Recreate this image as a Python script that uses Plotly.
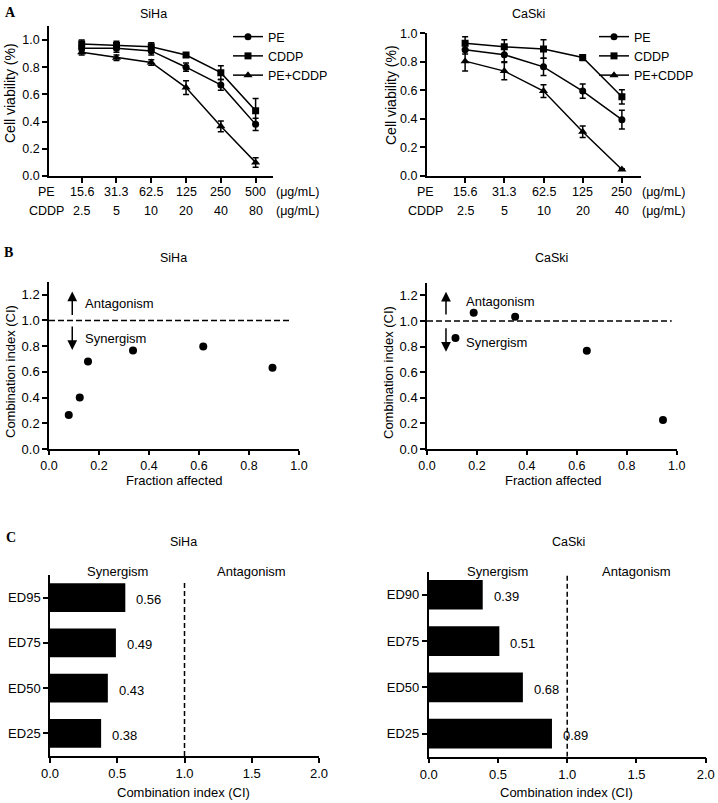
import plotly.graph_objects as go

W, H = 718, 803

# ---------------- Data ----------------
# Panel A - SiHa
siha_pe_dose = ["15.6", "31.3", "62.5", "125", "250", "500"]
siha_cddp_dose = ["2.5", "5", "10", "20", "40", "80"]
siha_pe = [0.94, 0.94, 0.92, 0.80, 0.67, 0.38]
siha_pe_err = [0.02, 0.03, 0.03, 0.03, 0.04, 0.045]
siha_cddp = [0.97, 0.96, 0.95, 0.89, 0.76, 0.48]
siha_cddp_err = [0.03, 0.03, 0.03, 0.01, 0.05, 0.09]
siha_combo = [0.91, 0.87, 0.835, 0.65, 0.365, 0.10]
siha_combo_err = [0.02, 0.02, 0.02, 0.05, 0.04, 0.035]

# Panel A - CaSki
caski_pe_dose = ["15.6", "31.3", "62.5", "125", "250"]
caski_cddp_dose = ["2.5", "5", "10", "20", "40"]
caski_pe = [0.885, 0.85, 0.765, 0.595, 0.395]
caski_pe_err = [0.03, 0.05, 0.06, 0.05, 0.065]
caski_cddp = [0.93, 0.905, 0.89, 0.83, 0.555]
caski_cddp_err = [0.045, 0.05, 0.065, 0.02, 0.05]
caski_combo = [0.805, 0.735, 0.595, 0.31, 0.045]
caski_combo_err = [0.07, 0.06, 0.045, 0.04, 0.005]

# Panel B - CI vs Fa
siha_fa = [0.079, 0.123, 0.156, 0.336, 0.617, 0.894]
siha_ci = [0.264, 0.40, 0.68, 0.765, 0.796, 0.632]
caski_fa = [0.114, 0.187, 0.353, 0.640, 0.945]
caski_ci = [0.867, 1.065, 1.034, 0.768, 0.227]

# Panel C - CI at ED levels
siha_ed = ["ED25", "ED50", "ED75", "ED95"]
siha_ed_ci = [0.38, 0.43, 0.49, 0.56]
caski_ed = ["ED25", "ED50", "ED75", "ED90"]
caski_ed_ci = [0.89, 0.68, 0.51, 0.39]

FONT = "Liberation Sans, Arial, sans-serif"
SERIF = "Liberation Serif, Times New Roman, serif"


def px(x):
    return x / W


def py(y):
    return 1 - y / H


fig = go.Figure()

# ---------- Panel A traces ----------
series_style = [("PE", "circle", 7), ("CDDP", "square", 7), ("PE+CDDP", "triangle-up", 8)]
siha_sets = [(siha_pe, siha_pe_err), (siha_cddp, siha_cddp_err), (siha_combo, siha_combo_err)]
caski_sets = [(caski_pe, caski_pe_err), (caski_cddp, caski_cddp_err), (caski_combo, caski_combo_err)]

for (name, sym, sz), (vals, errs) in zip(series_style, siha_sets):
    fig.add_trace(go.Scatter(
        x=list(range(len(siha_pe_dose))), y=vals, name=name, mode="lines+markers",
        marker=dict(symbol=sym, size=sz, color="black"),
        line=dict(color="black", width=1.5),
        error_y=dict(type="data", array=errs, color="black", thickness=1.5, width=3),
        xaxis="x", yaxis="y", legend="legend"))

for (name, sym, sz), (vals, errs) in zip(series_style, caski_sets):
    fig.add_trace(go.Scatter(
        x=list(range(len(caski_pe_dose))), y=vals, name=name, mode="lines+markers",
        marker=dict(symbol=sym, size=sz, color="black"),
        line=dict(color="black", width=1.5),
        error_y=dict(type="data", array=errs, color="black", thickness=1.5, width=3),
        xaxis="x2", yaxis="y2", legend="legend2"))

# ---------- Panel B traces ----------
fig.add_trace(go.Scatter(x=siha_fa, y=siha_ci, mode="markers", showlegend=False,
                         marker=dict(size=8, color="black"), xaxis="x3", yaxis="y3"))
fig.add_trace(go.Scatter(x=caski_fa, y=caski_ci, mode="markers", showlegend=False,
                         marker=dict(size=8, color="black"), xaxis="x4", yaxis="y4"))

# ---------- Panel C traces ----------
fig.add_trace(go.Bar(x=siha_ed_ci, y=siha_ed, orientation="h", width=0.64,
                     marker=dict(color="black", line=dict(width=0)), showlegend=False,
                     xaxis="x5", yaxis="y5"))
fig.add_trace(go.Bar(x=caski_ed_ci, y=caski_ed, orientation="h", width=0.64,
                     marker=dict(color="black", line=dict(width=0)), showlegend=False,
                     xaxis="x6", yaxis="y6"))

# ---------- Axes ----------
base = dict(showline=True, linecolor="black", linewidth=1.5, ticks="outside",
            ticklen=5, tickwidth=1.5, tickcolor="black", showgrid=False, zeroline=False,
            automargin=False,
            tickfont=dict(family=FONT, size=12.5, color="black"), fixedrange=True)
f13 = dict(family=FONT, size=13, color="black")
f125 = dict(family=FONT, size=12.5, color="black")

layout = dict(
    template="none",
    width=W, height=H, margin=dict(l=0, r=0, t=0, b=0, pad=0, autoexpand=False),
    paper_bgcolor="white", plot_bgcolor="white",
    font=dict(family=FONT, size=12, color="black"),
    showlegend=True,
    # A SiHa
    xaxis=dict(base, domain=[px(49), px(273)], range=[-0.94, 5.5],
               tickvals=list(range(len(siha_pe_dose))), showticklabels=False, anchor="y"),
    yaxis=dict(base, domain=[py(176), py(26.4)], range=[0, 1.1],
               tickvals=[0, 0.2, 0.4, 0.6, 0.8, 1.0], tickformat=".1f", anchor="x"),
    # A CaSki
    xaxis2=dict(base, domain=[px(426.7), px(640.7)], range=[-0.98, 4.48],
                tickvals=list(range(len(caski_pe_dose))), showticklabels=False, anchor="y2"),
    yaxis2=dict(base, domain=[py(176), py(33.3)], range=[0, 1.0],
                tickvals=[0, 0.2, 0.4, 0.6, 0.8, 1.0], tickformat=".1f", anchor="x2"),
    # B SiHa
    xaxis3=dict(base, domain=[px(49), px(299)], range=[0, 1.0],
                tickvals=[0, 0.2, 0.4, 0.6, 0.8, 1.0], tickformat=".1f", anchor="y3",
                tickfont=f125, ticklen=4),
    yaxis3=dict(base, domain=[py(449), py(281.8)], range=[0, 1.3],
                tickvals=[0, 0.2, 0.4, 0.6, 0.8, 1.0, 1.2], tickformat=".1f", anchor="x3",
                tickfont=f13),
    # B CaSki
    xaxis4=dict(base, domain=[px(427), px(676.7)], range=[0, 1.0],
                tickvals=[0, 0.2, 0.4, 0.6, 0.8, 1.0], tickformat=".1f", anchor="y4",
                tickfont=f125, ticklen=4),
    yaxis4=dict(base, domain=[py(449), py(282.7)], range=[0, 1.3],
                tickvals=[0, 0.2, 0.4, 0.6, 0.8, 1.0, 1.2], tickformat=".1f", anchor="x4",
                tickfont=f13),
    # C SiHa
    xaxis5=dict(base, domain=[px(50), px(319)], range=[0, 2.0],
                tickvals=[0, 0.5, 1.0, 1.5, 2.0], tickformat=".1f", anchor="y5",
                tickfont=f13),
    yaxis5=dict(base, domain=[py(756), py(575)], range=[-0.5, 3.5], type="category",
                categoryorder="array", categoryarray=siha_ed, anchor="x5",
                tickfont=f13),
    # C CaSki
    xaxis6=dict(base, domain=[px(428.7), px(705.7)], range=[0, 2.0],
                tickvals=[0, 0.5, 1.0, 1.5, 2.0], tickformat=".1f", anchor="y6",
                tickfont=f13),
    yaxis6=dict(base, domain=[py(756.7), py(571.7)], range=[-0.5, 3.5], type="category",
                categoryorder="array", categoryarray=caski_ed, anchor="x6",
                tickfont=f13),
    legend=dict(x=px(228), y=py(22), xanchor="left", yanchor="top",
                bgcolor="rgba(0,0,0,0)", borderwidth=0, itemwidth=30,
                font=dict(family=FONT, size=12.5, color="black"), tracegroupgap=0),
    legend2=dict(x=px(594), y=py(22), xanchor="left", yanchor="top",
                 bgcolor="rgba(0,0,0,0)", borderwidth=0, itemwidth=30,
                 font=dict(family=FONT, size=12.5, color="black"), tracegroupgap=0),
    bargap=0.36,
)
fig.update_layout(**layout)

ann = []


def text(x, y, t, size=12.5, angle=0, family=FONT, bold=False, xanchor="center"):
    ann.append(dict(x=px(x), y=py(y), xref="paper", yref="paper", text=(f"<b>{t}</b>" if bold else t),
                    showarrow=False, xanchor=xanchor, yanchor="middle", textangle=angle,
                    font=dict(family=family, size=size, color="black")))


# panel letters
text(10, 13, "A", size=14, family=SERIF, bold=True)
text(8, 253, "B", size=14, family=SERIF, bold=True)
text(11, 537, "C", size=14, family=SERIF, bold=True)

# titles
text(153, 14, "SiHa")
text(528, 14, "CaSki")
text(173, 258, "SiHa")
text(551, 258, "CaSki")
text(183, 542, "SiHa")
text(568, 542, "CaSki")

# axis titles
text(10, 93, "Cell viability (%)", size=14, angle=-90)
text(391, 95, "Cell viability (%)", size=14, angle=-90)
text(10, 372, "Combination index (CI)", size=13, angle=-90)
text(388, 372, "Combination index (CI)", size=13, angle=-90)
text(174, 481, "Fraction affected", size=13)
text(553, 481, "Fraction affected", size=13)
text(183, 792, "Combination index (CI)", size=13)
text(566, 792, "Combination index (CI)", size=13)

# Panel A dose rows
for xa, pe_d, cd_d, lab_x, unit_x in [("x", siha_pe_dose, siha_cddp_dose, 46, 297),
                                      ("x2", caski_pe_dose, caski_cddp_dose, 425, 663)]:
    for i, (a, b) in enumerate(zip(pe_d, cd_d)):
        ann.append(dict(x=i, y=py(192), xref=xa, yref="paper", text=a, showarrow=False,
                        xanchor="center", yanchor="middle", font=dict(family=FONT, size=12.5)))
        ann.append(dict(x=i, y=py(211), xref=xa, yref="paper", text=b, showarrow=False,
                        xanchor="center", yanchor="middle", font=dict(family=FONT, size=12.5)))
    text(lab_x, 192, "PE")
    text(lab_x, 211, "CDDP")
    text(unit_x, 192, "(μg/mL)")
    text(unit_x, 211, "(μg/mL)")

# Panel B arrows and labels
for xa, ya, ax_, up, dn, tx, ty_a, ty_s in [("x3", "y3", 0.093, (1.03, 1.225), (0.965, 0.77), 0.136, 1.13, 0.86),
                                            ("x4", "y4", 0.076, (1.04, 1.23), (0.955, 0.76), 0.147, 1.15, 0.83)]:
    ann.append(dict(x=ax_, y=up[1], ax=ax_, ay=up[0], xref=xa, yref=ya, axref=xa, ayref=ya,
                    text="", showarrow=True, arrowhead=2, arrowsize=1.3, arrowwidth=1.5,
                    arrowcolor="black", standoff=0, startstandoff=0))
    ann.append(dict(x=ax_, y=dn[1], ax=ax_, ay=dn[0], xref=xa, yref=ya, axref=xa, ayref=ya,
                    text="", showarrow=True, arrowhead=2, arrowsize=1.3, arrowwidth=1.5,
                    arrowcolor="black", standoff=0, startstandoff=0))
    ann.append(dict(x=tx, y=ty_a, xref=xa, yref=ya, text="Antagonism", showarrow=False,
                    xanchor="left", yanchor="middle", font=f13))
    ann.append(dict(x=tx, y=ty_s, xref=xa, yref=ya, text="Synergism", showarrow=False,
                    xanchor="left", yanchor="middle", font=f13))

# Panel C bar value labels and region labels
for xa, ya, cats, vals, top in [("x5", "y5", siha_ed, siha_ed_ci, 571),
                                ("x6", "y6", caski_ed, caski_ed_ci, 571)]:
    for c, v in zip(cats, vals):
        ann.append(dict(x=v, y=c, xref=xa, yref=ya, text=f"{v:.2f}", showarrow=False,
                        xanchor="left", yanchor="middle", xshift=9, yshift=-2, font=f13))
    ann.append(dict(x=0.5, y=py(top), xref=xa, yref="paper", text="Synergism", showarrow=False,
                    xanchor="center", yanchor="middle", font=f13))
    ann.append(dict(x=1.5, y=py(top), xref=xa, yref="paper", text="Antagonism", showarrow=False,
                    xanchor="center", yanchor="middle", font=f13))

fig.update_layout(annotations=ann)

# dashed reference lines
shapes = [
    dict(type="line", xref="x3", yref="y3", x0=0, x1=0.97, y0=1.0, y1=1.0,
         line=dict(color="black", width=1.5, dash="6px,3px")),
    dict(type="line", xref="x4", yref="y4", x0=0, x1=0.98, y0=1.0, y1=1.0,
         line=dict(color="black", width=1.5, dash="6px,3px")),
    dict(type="line", xref="x5", yref="y5", x0=1.0, x1=1.0, y0=-0.5, y1=3.39,
         line=dict(color="black", width=1.5, dash="5px,3px")),
    dict(type="line", xref="x6", yref="y6", x0=1.0, x1=1.0, y0=-0.5, y1=3.44,
         line=dict(color="black", width=1.5, dash="5px,3px")),
]
fig.update_layout(shapes=shapes)

# remove the browser's default page margin so the figure starts at the window corner
fig.write_html("out.html", config={"displayModeBar": False},
               post_script="document.body.style.margin='0';document.body.style.overflow='hidden';")
